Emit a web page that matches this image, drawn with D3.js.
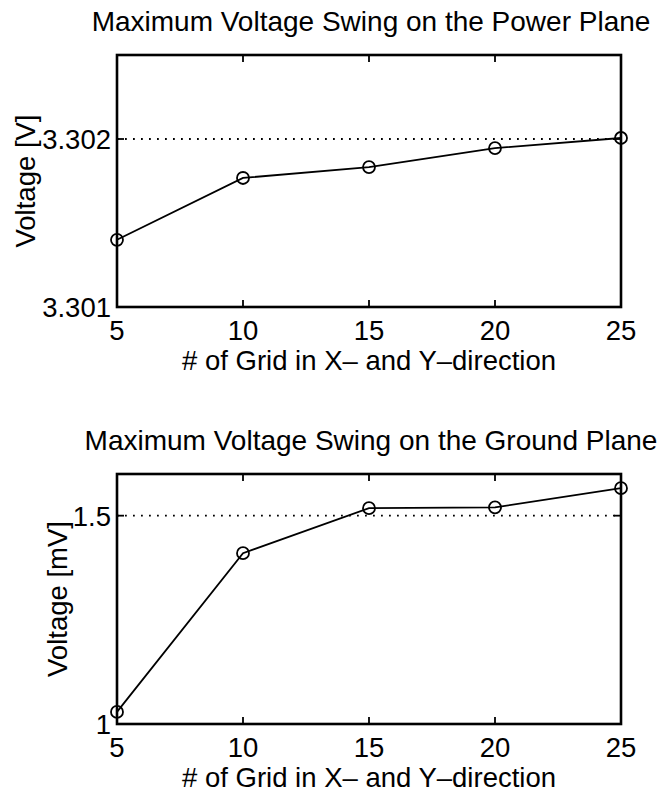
<!DOCTYPE html>
<html>
<head>
<meta charset="utf-8">
<script src="https://cdn.jsdelivr.net/npm/d3@7"></script>
<style>
  body { margin: 0; background: #fff; }
  svg { display: block; font-family: "Liberation Sans", Arial, Helvetica, sans-serif; }
</style>
</head>
<body>
<svg id="chart" width="661" height="799"></svg>
<script>
// grid counts along x
const gridCounts = [5, 10, 15, 20, 25];
// max voltage swing, power plane [V]
const powerVolts = [3.30140, 3.301768, 3.301833, 3.301946, 3.302006];
// max voltage swing, ground plane [mV]
const groundMilliVolts = [1.029, 1.410, 1.518, 1.520, 1.566];

const xTicks = [5, 10, 15, 20, 25];
const powerTicks = [3.301, 3.302];
const groundTicks = [1, 1.5];

const svg = d3.select('#chart');
const fs = 27.5;

function drawPanel(opts) {
  const { top, height, left, width, values, domain, ticks, fmt, title, yLabel, refLine, yLabelX } = opts;
  const g = svg.append('g').attr('transform', `translate(${left},${top})`);

  const x = d3.scaleLinear().domain([5, 25]).range([0, width]);
  const y = d3.scaleLinear().domain(domain).range([height, 0]);

  // dotted reference line
  g.append('line')
    .attr('x1', 0).attr('x2', width)
    .attr('y1', y(refLine)).attr('y2', y(refLine))
    .attr('stroke', '#000').attr('stroke-width', 1.8)
    .attr('stroke-dasharray', '1.8,6.2');

  // inner ticks on all sides
  const tl = 7;
  xTicks.forEach(t => {
    g.append('line').attr('x1', x(t)).attr('x2', x(t)).attr('y1', height).attr('y2', height - tl)
      .attr('stroke', '#000').attr('stroke-width', 1.8);
    g.append('line').attr('x1', x(t)).attr('x2', x(t)).attr('y1', 0).attr('y2', tl)
      .attr('stroke', '#000').attr('stroke-width', 1.8);
  });
  ticks.forEach(t => {
    g.append('line').attr('x1', 0).attr('x2', tl).attr('y1', y(t)).attr('y2', y(t))
      .attr('stroke', '#000').attr('stroke-width', 1.8);
    g.append('line').attr('x1', width).attr('x2', width - tl).attr('y1', y(t)).attr('y2', y(t))
      .attr('stroke', '#000').attr('stroke-width', 1.8);
  });

  // frame
  g.append('rect')
    .attr('x', 0).attr('y', 0).attr('width', width).attr('height', height)
    .attr('fill', 'none').attr('stroke', '#000').attr('stroke-width', 2.6);

  // data line
  const pts = gridCounts.map((c, i) => [c, values[i]]);
  g.append('path')
    .datum(pts)
    .attr('fill', 'none').attr('stroke', '#000').attr('stroke-width', 1.8)
    .attr('d', d3.line().x(d => x(d[0])).y(d => y(d[1])));

  g.selectAll('circle.mk')
    .data(pts)
    .enter().append('circle')
    .attr('class', 'mk')
    .attr('cx', d => x(d[0])).attr('cy', d => y(d[1]))
    .attr('r', 6)
    .attr('fill', 'none').attr('stroke', '#000').attr('stroke-width', 1.8);

  // tick labels
  g.selectAll('text.xt')
    .data(xTicks)
    .enter().append('text')
    .attr('class', 'xt')
    .attr('x', d => x(d)).attr('y', height + 33)
    .attr('text-anchor', 'middle')
    .attr('font-size', fs)
    .text(d => d);

  g.selectAll('text.yt')
    .data(ticks)
    .enter().append('text')
    .attr('class', 'yt')
    .attr('x', -6).attr('y', d => y(d))
    .attr('dy', '0.36em')
    .attr('text-anchor', 'end')
    .attr('font-size', fs)
    .text(fmt);

  // title
  g.append('text')
    .attr('x', width / 2 + 2).attr('y', -24)
    .attr('text-anchor', 'middle')
    .attr('font-size', 28)
    .text(title);

  // x label
  g.append('text')
    .attr('x', width / 2).attr('y', height + 63)
    .attr('text-anchor', 'middle')
    .attr('font-size', fs)
    .text('# of Grid in X\u2013 and Y\u2013direction');

  // y label
  g.append('text')
    .attr('transform', `translate(${yLabelX - left},${height / 2}) rotate(-90)`)
    .attr('text-anchor', 'middle')
    .attr('font-size', fs)
    .text(yLabel);
}

drawPanel({
  top: 55, height: 252, left: 117, width: 504,
  values: powerVolts, domain: [3.301, 3.3025], ticks: powerTicks,
  fmt: d3.format('.3f'), refLine: 3.302,
  title: 'Maximum Voltage Swing on the Power Plane',
  yLabel: 'Voltage [V]', yLabelX: 35
});

drawPanel({
  top: 474, height: 250, left: 117, width: 504,
  values: groundMilliVolts, domain: [1, 1.6], ticks: groundTicks,
  fmt: d => d3.format('')(d), refLine: 1.5,
  title: 'Maximum Voltage Swing on the Ground Plane',
  yLabel: 'Voltage [mV]', yLabelX: 67
});
</script>
</body>
</html>
